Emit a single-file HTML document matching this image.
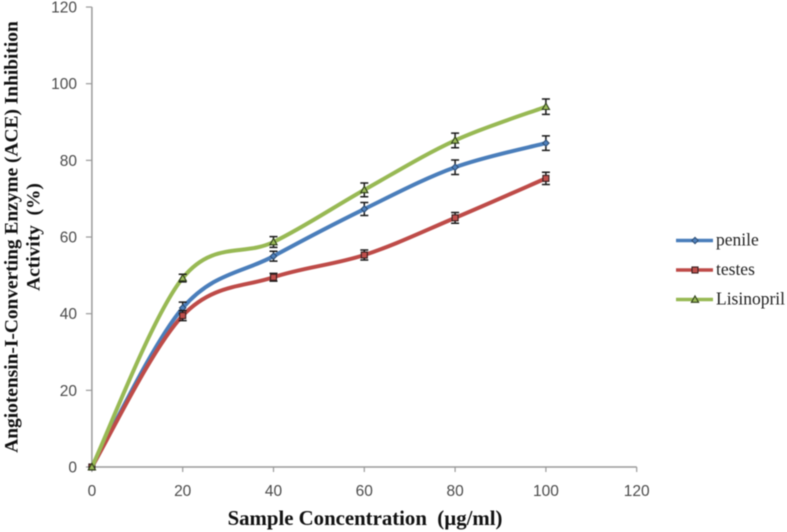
<!DOCTYPE html>
<html>
<head>
<meta charset="utf-8">
<style>
html,body{margin:0;padding:0;background:#fff;width:787px;height:532px;overflow:hidden}
svg{display:block;filter:blur(0.6px)}
.tick{font-family:"Liberation Sans",sans-serif;font-size:15.5px;fill:#4a4a4a}
.title{font-family:"Liberation Serif",serif;font-weight:bold;fill:#111}
.leg{font-family:"Liberation Serif",serif;font-size:17.5px;fill:#222}
</style>
</head>
<body>
<svg id="chart" xmlns="http://www.w3.org/2000/svg" width="787" height="532" viewBox="0 0 787 532">
<rect width="787" height="532" fill="#fff"/>
<g id="axes"></g>
<g id="series"></g>
<text class="title" x="365" y="525" font-size="20.8" text-anchor="middle" xml:space="preserve">Sample Concentration  (µg/ml)</text>
<text class="title" transform="translate(17.5,237) rotate(-90)" font-size="19.4" text-anchor="middle">Angiotensin-I-Converting Enzyme (ACE) Inhibition</text>
<text class="title" transform="translate(39.5,237) rotate(-90)" font-size="19.4" text-anchor="middle" xml:space="preserve">Activity  (%)</text>
<g id="legend"></g>
</svg>
<script>
const categories = [0, 20, 40, 60, 80, 100];
const penileValues = [0, 41.5, 55, 67.3, 78.2, 84.5];
const testesValues = [0, 39.5, 49.5, 55.3, 65, 75.3];
const lisinoprilValues = [0, 49.3, 58.7, 72.3, 85.2, 94];
const penileErrors = [0, 1.5, 1.3, 1.7, 1.9, 1.9];
const testesErrors = [0, 1.3, 1, 1.3, 1.4, 1.6];
const lisinoprilErrors = [0, 1, 1.4, 1.8, 1.9, 2];
const xTicks = [0, 20, 40, 60, 80, 100, 120];
const yTicks = [0, 20, 40, 60, 80, 100, 120];
const seriesNames = ['penile', 'testes', 'Lisinopril'];

const NS = 'http://www.w3.org/2000/svg';
const xScale = v => 91.9 + v * 4.54;
const yScale = v => 467 - v * 3.833;
const axesG = document.getElementById('axes');
const seriesG = document.getElementById('series');
const legendG = document.getElementById('legend');

function make(tag, attrs, parent) {
  const el = document.createElementNS(NS, tag);
  for (const k in attrs) el.setAttribute(k, attrs[k]);
  parent.appendChild(el);
  return el;
}

const axisColor = '#9a9a9a';
const xAxisLine = make('line', {x1: xScale(0), y1: yScale(0), x2: xScale(120), y2: yScale(0), stroke: axisColor, 'stroke-width': 1.5}, axesG);


const yAxisLine = make('line', {x1: xScale(0), y1: yScale(0), x2: xScale(0), y2: yScale(120), stroke: axisColor, 'stroke-width': 1.5}, axesG);



xTicks.forEach(t => {
  const m = make('line', {x1: xScale(t), y1: yScale(0), x2: xScale(t), y2: yScale(0) + 5, stroke: axisColor, 'stroke-width': 1.2}, axesG);
  
  
  const l = make('text', {x: xScale(t), y: 496, class: 'tick', 'text-anchor': 'middle'}, axesG);
  l.textContent = t;
  
  
});
yTicks.forEach(t => {
  const m = make('line', {x1: xScale(0) - 6, y1: yScale(t), x2: xScale(0), y2: yScale(t), stroke: axisColor, 'stroke-width': 1.2}, axesG);
  
  
  const l = make('text', {x: 77, y: yScale(t) + 5.5, class: 'tick', 'text-anchor': 'end'}, axesG);
  l.textContent = t;
  
  
});

function smoothPath(pts) {
  let d = 'M' + pts[0][0] + ' ' + pts[0][1];
  for (let i = 0; i < pts.length - 1; i++) {
    const p0 = pts[Math.max(i - 1, 0)], p1 = pts[i], p2 = pts[i + 1], p3 = pts[Math.min(i + 2, pts.length - 1)];
    const c1x = p1[0] + (p2[0] - p0[0]) / 6, c1y = p1[1] + (p2[1] - p0[1]) / 6;
    const c2x = p2[0] - (p3[0] - p1[0]) / 6, c2y = p2[1] - (p3[1] - p1[1]) / 6;
    d += ' C' + c1x + ' ' + c1y + ' ' + c2x + ' ' + c2y + ' ' + p2[0] + ' ' + p2[1];
  }
  return d;
}

function drawMarker(kind, cx, cy, fill, parent) {
  let m;
  if (kind === 'penile') {
    m = make('polygon', {points: [cx, cy - 3.2, cx + 3.2, cy, cx, cy + 3.2, cx - 3.2, cy].join(' '), fill: fill, stroke: '#2b4a70', 'stroke-width': 1}, parent);
  } else if (kind === 'testes') {
    m = make('rect', {x: cx - 3, y: cy - 3, width: 6, height: 6, fill: fill, stroke: '#3a1f1f', 'stroke-width': 1.1}, parent);
  } else {
    m = make('polygon', {points: [cx, cy - 3.6, cx + 3.6, cy + 2.8, cx - 3.6, cy + 2.8].join(' '), fill: fill, stroke: '#2f3f1a', 'stroke-width': 1.1}, parent);
  }
  
  
}

function drawSeries(name, values, errors, color, markerFill) {
  const g = make('g', {}, seriesG);
  
  
  const pts = categories.map((c, i) => [xScale(c), yScale(values[i])]);
  const path = make('path', {d: smoothPath(pts), fill: 'none', stroke: color, 'stroke-width': 4, 'stroke-linecap': 'round'}, g);
  
  
  categories.forEach((c, i) => {
    const x = xScale(c);
    if (errors[i] > 0) {
      const top = yScale(values[i] + errors[i]), bot = yScale(values[i] - errors[i]);
      const eb = make('path', {d: 'M' + x + ' ' + top + 'V' + bot + 'M' + (x - 4) + ' ' + top + 'H' + (x + 4) + 'M' + (x - 4) + ' ' + bot + 'H' + (x + 4), stroke: '#1a1a1a', 'stroke-width': 1.5, fill: 'none'}, g);
      
      
    }
    drawMarker(name, x, yScale(values[i]), markerFill, g);
  });
}

drawSeries('penile', penileValues, penileErrors, '#4a7ebb', '#4f81bd');
drawSeries('testes', testesValues, testesErrors, '#be4b48', '#c0504d');
drawSeries('Lisinopril', lisinoprilValues, lisinoprilErrors, '#98b954', '#9bbb59');

const legendColors = ['#4a7ebb', '#be4b48', '#98b954'];
const legendFills = ['#4f81bd', '#c0504d', '#9bbb59'];
const legendKinds = ['penile', 'testes', 'Lisinopril'];
seriesNames.forEach((n, i) => {
  const y = 240.5 + i * 29.5;
  const g = make('g', {}, legendG);
  
  
  const ln = make('line', {x1: 676, y1: y, x2: 713, y2: y, stroke: legendColors[i], 'stroke-width': 3.4}, g);
  
  
  drawMarker(legendKinds[i], 695, y, legendFills[i], g);
  const t = make('text', {x: 716, y: y + 5, class: 'leg'}, g);
  t.textContent = n;
  
  
});
</script>
</body>
</html>
